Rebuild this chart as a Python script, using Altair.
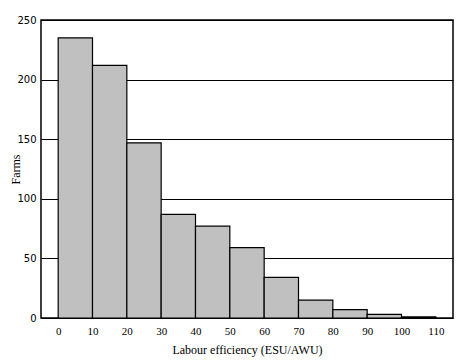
import altair as alt
import pandas as pd

bin_start = [0, 10, 20, 30, 40, 50, 60, 70, 80, 90, 100]
bin_end = [10, 20, 30, 40, 50, 60, 70, 80, 90, 100, 110]
farms = [235, 212, 147, 87, 77, 59, 34, 15, 7, 3, 1]
x_ticks = [0, 10, 20, 30, 40, 50, 60, 70, 80, 90, 100, 110]
y_ticks = [0, 50, 100, 150, 200, 250]

df = pd.DataFrame({"start": bin_start, "end": bin_end, "farms": farms})

chart = alt.Chart(df).mark_rect(
    fill="#c0c0c0", stroke="black", strokeWidth=1.2
).encode(
    x=alt.X("start:Q", scale=alt.Scale(domain=[-5, 115], nice=False, zero=False),
            axis=alt.Axis(values=x_ticks, title="Labour efficiency (ESU/AWU)",
                          grid=False, ticks=False, domain=False,
                          labelFont="Liberation Serif", labelFontSize=11,
                          labelColor="black", labelPadding=7,
                          titleFont="Liberation Serif", titleFontSize=12,
                          titleFontWeight="normal", titleColor="black",
                          titlePadding=8)),
    x2="end:Q",
    y=alt.Y("farms:Q", scale=alt.Scale(domain=[0, 250], nice=False),
            axis=alt.Axis(values=y_ticks, title="Farms", grid=True,
                          gridColor="black", gridWidth=1, gridOpacity=1,
                          ticks=False, domain=False,
                          labelFont="DejaVu Sans", labelFontSize=10,
                          labelColor="black", labelPadding=5,
                          titleFont="Liberation Serif", titleFontSize=12,
                          titleFontWeight="normal", titleColor="black",
                          titleX=-26, titleY=149, titleBaseline="middle",
                          titleAlign="center", titleAngle=270)),
    y2=alt.datum(0),
).properties(
    width=412, height=298,
    autosize=alt.AutoSizeParams(type="none"),
    padding={"left": 33, "top": 12, "right": 2, "bottom": 40},
).configure(
    background="white"
).configure_view(
    stroke="black", strokeWidth=1.5
)

chart.save("out.html", embed_options={"renderer": "svg", "actions": False})
